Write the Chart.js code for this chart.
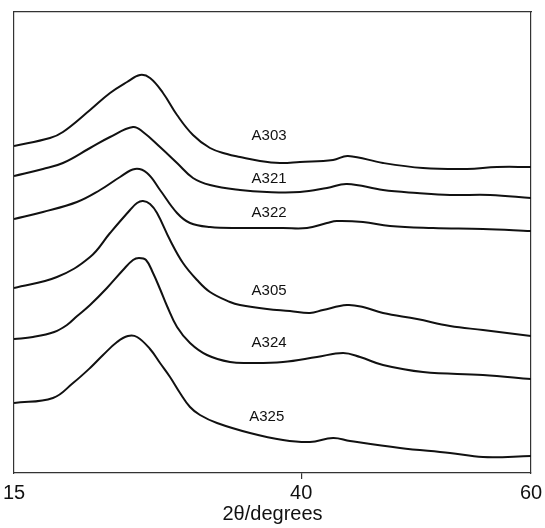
<!DOCTYPE html>
<html>
<head>
<meta charset="utf-8">
<script src="https://cdn.jsdelivr.net/npm/chart.js@4.4.1/dist/chart.umd.min.js"></script>
<style>
html,body{margin:0;padding:0;background:#fff;}
#wrap{width:545px;height:528px;}
</style>
</head>
<body>
<div id="wrap"><canvas id="c" width="545" height="528"></canvas></div>
<script>
// X tick labels (2θ, degrees)
const xTicks = [15, 40, 60];

// Series: [2θ, intensity (arbitrary, offset stacked)]
const A303 = [[15.0,327],[18.13,335],[19.26,341],[21.62,363],[23.36,380],[24.84,391],[25.97,398],[26.84,395],[27.97,380],[29.19,358],[30.58,338],[32.06,325],[33.54,319],[34.67,316],[36.41,312],[38.15,310],[39.89,311],[42.77,313],[44.07,317],[47.12,310],[50.6,305],[54.43,304],[57.04,306],[60.0,306]];
const A321 = [[15.0,297],[17.52,304],[19.26,310],[21.62,325],[23.36,336],[25.36,346],[26.23,341],[27.71,326],[29.19,310],[30.58,295],[32.06,288],[34.67,283],[37.02,281],[39.89,281],[42.24,285],[43.98,289],[47.12,283],[50.08,280],[52.95,278],[56.43,278],[60.0,275]];
const A322 = [[15.0,254],[17.52,261],[20.48,271],[22.49,283],[24.23,296],[25.53,304],[26.58,300],[27.71,283],[29.19,260],[30.32,250],[32.06,246],[34.67,245],[38.41,245],[40.5,245],[42.24,250],[43.11,252],[45.38,251],[47.73,247],[51.47,245],[55.82,244],[60.0,242]];
const A305 = [[15.0,185],[18.74,196],[21.62,216],[23.36,240],[25.1,263],[25.71,270],[26.23,272],[26.84,269],[27.45,260],[28.58,233],[29.71,210],[30.93,193],[32.06,181],[33.8,171],[34.67,168],[37.02,164],[39.02,162],[40.76,160],[41.89,163],[43.98,168],[45.38,166],[47.12,160],[50.08,154],[52.95,147],[55.82,143],[60.0,137]];
const A324 = [[15.0,134],[16.65,136],[18.5,141],[19.61,148],[20.5,157],[21.62,168],[23.09,185],[24.49,203],[25.36,213],[25.88,215],[26.49,213],[27.1,200],[27.71,184],[28.32,167],[29.19,146],[30.32,130],[31.8,118],[33.8,111],[35.54,110],[38.41,111],[41.37,116],[43.64,120],[45.12,116],[47.12,108],[50.6,101],[55.82,98],[60.0,94]];
const A325 = [[15.0,70],[18.39,75],[20.14,90],[21.62,105],[22.75,118],[23.97,131],[24.92,137],[25.71,136],[26.84,124],[27.71,110],[28.58,96],[29.45,80],[30.32,66],[31.19,58],[32.67,50],[35.54,40],[38.41,33],[40.76,31],[42.77,35],[44.25,32],[48.6,25],[52.95,20],[55.82,16],[60.0,17]];

// Sample names and where their labels sit (2θ, intensity)
const seriesNames = ["A303","A321","A322","A305","A324","A325"];
const labelX = [37.2, 37.2, 37.2, 37.2, 37.2, 37.0];
const labelY = [337, 294, 260, 182, 130, 56];

const seriesData = [A303, A321, A322, A305, A324, A325];

const datasets = seriesData.map((arr, i) => ({
  label: seriesNames[i],
  data: arr.map(p => ({x: p[0], y: p[1]})),
  borderColor: '#111',
  borderWidth: 2,
  pointRadius: 0,
  tension: 0.4,
  fill: false
}));

const labelPlugin = {
  id: 'seriesLabels',
  afterDatasetsDraw(chart) {
    const ctx = chart.ctx;
    const xs = chart.scales.x, ys = chart.scales.y;
    ctx.save();
    ctx.fillStyle = '#111';
    ctx.font = '15px "Liberation Sans", Arial, sans-serif';
    ctx.textAlign = 'center';
    ctx.textBaseline = 'middle';
    seriesNames.forEach((n, i) => {
      ctx.fillText(n, xs.getPixelForValue(labelX[i]), ys.getPixelForValue(labelY[i]));
    });
    ctx.restore();
  }
};

const FONT = '"Liberation Sans", Arial, sans-serif';

new Chart(document.getElementById('c'), {
  type: 'line',
  data: { datasets },
  plugins: [labelPlugin],
  options: {
    responsive: false,
    animation: false,
    layout: { padding: { left: 14, right: 14, top: 12, bottom: 0 } },
    plugins: { legend: { display: false }, tooltip: { enabled: false } },
    scales: {
      x: {
        type: 'linear', position: 'bottom', min: 15, max: 60,
        afterBuildTicks: s => { s.ticks = xTicks.map(v => ({value: v})); },
        afterFit: s => { s.height = 55; },
        grid: {
          display: true, drawOnChartArea: false, drawTicks: true, tickLength: 6,
          color: c => (c.tick && c.tick.value === 40) ? '#333' : 'rgba(0,0,0,0)', lineWidth: 1.2
        },
        border: { display: true, color: '#333', width: 1.2 },
        ticks: { color: '#111', font: { family: FONT, size: 20 }, padding: 2, maxRotation: 0, autoSkip: false },
        title: { display: true, text: '2θ/degrees', color: '#111', font: { family: FONT, size: 20 }, padding: { top: 0, bottom: 2 } }
      },
      x2: {
        type: 'linear', position: 'top', min: 15, max: 60,
        afterFit: s => { s.height = 0; },
        grid: { display: false }, ticks: { display: false },
        border: { display: true, color: '#333', width: 1.2 }
      },
      y: {
        type: 'linear', position: 'left', min: 0, max: 461,
        afterFit: s => { s.width = 0; },
        grid: { display: false }, ticks: { display: false },
        border: { display: true, color: '#333', width: 1.2 }
      },
      y2: {
        type: 'linear', position: 'right', min: 0, max: 461,
        afterFit: s => { s.width = 0; },
        grid: { display: false }, ticks: { display: false },
        border: { display: true, color: '#333', width: 1.2 }
      }
    }
  }
});
</script>
</body>
</html>
